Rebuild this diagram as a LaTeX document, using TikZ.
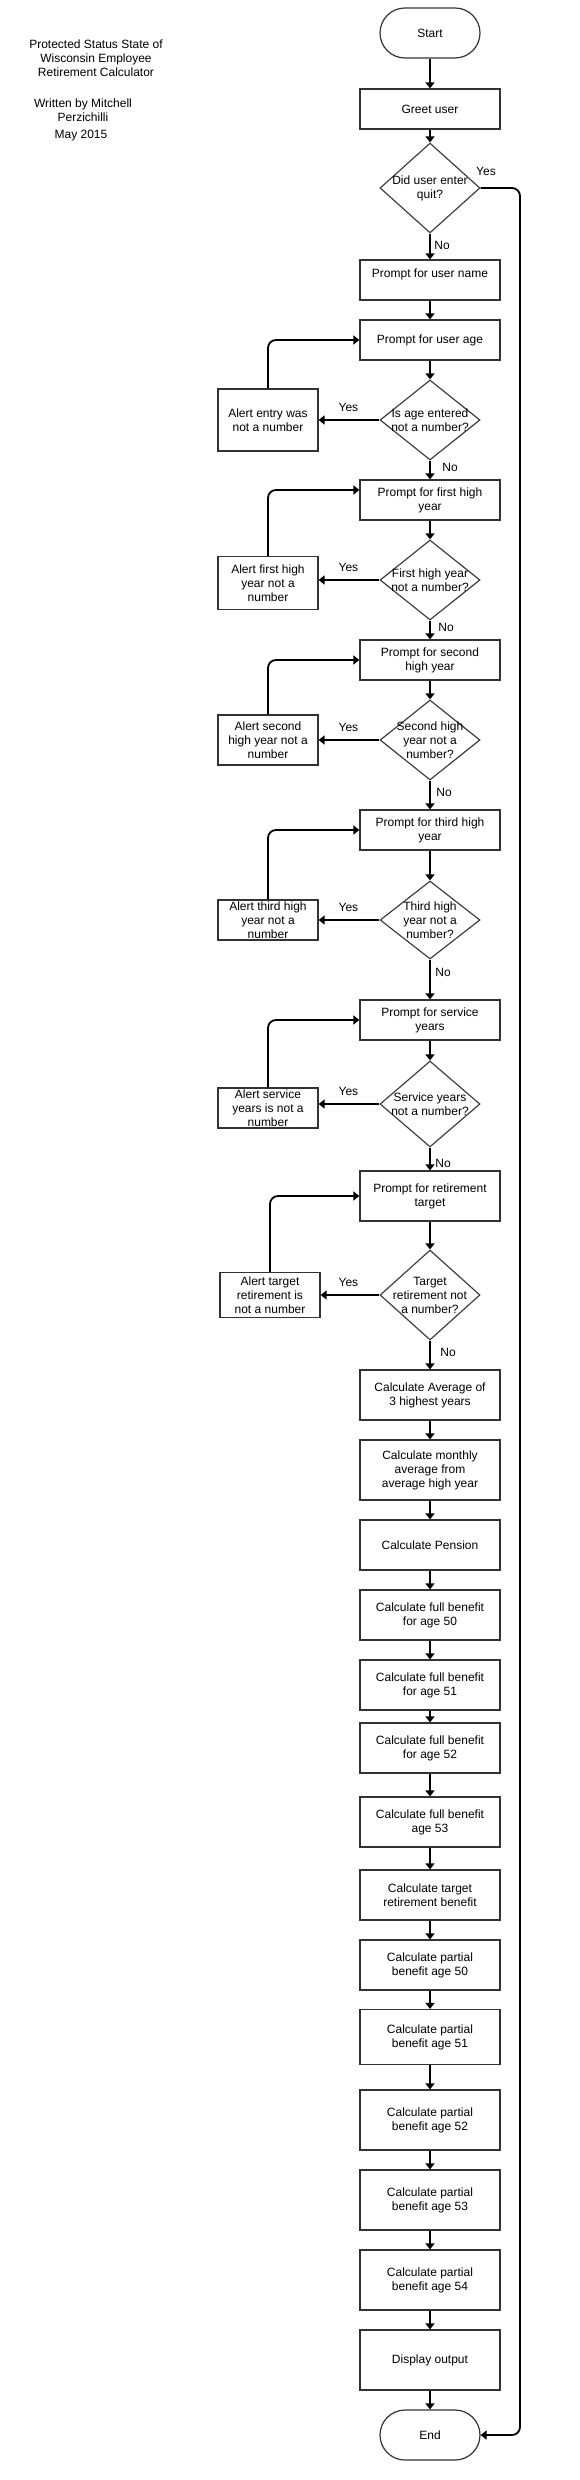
\documentclass[tikz,border=0pt]{standalone}
\usepackage{fontspec}
\setmainfont{Liberation Sans}
\usetikzlibrary{shapes.geometric,arrows.meta}

\tikzset{
  stepbox/.style={draw=black!80, line width=1.2pt, minimum width=140pt, minimum height=#1, inner sep=0pt, align=center},
  stepbox/.default=40pt,
  alertbox/.style={stepbox=#1, minimum width=100pt},
  term/.style={draw=black!80, line width=1.2pt, rounded corners=25pt, minimum width=100pt, minimum height=50pt, inner sep=0pt},
  dec/.style={draw=black!75, line width=1.2pt, shape=diamond, minimum width=100pt, minimum height=#1, inner sep=0pt},
  dtext/.style={align=center, inner sep=0pt},
  arr/.style={-{Triangle[width=9pt,length=6pt]}, line width=1.8pt},
  lbl/.style={inner sep=0pt},
}

\begin{document}
\begin{tikzpicture}[x=1pt, y=-1pt, font=\fontsize{12}{14}\selectfont]
    \useasboundingbox (0,0) rectangle (579,2480);

    % title block
    \node[align=center] (title) at (96,58) {Protected Status State of\\Wisconsin Employee\\Retirement Calculator};
    \node[align=center] (author) at (83,110) {Written by Mitchell\\Perzichilli};
    \node (date) at (81,136) {May 2015};

    % input part
    \node[term] (start) at (430,33) {Start};
    \node[stepbox] (greet) at (430,109) {Greet user};
    \node[dec=90pt, label={[dtext,name=quitT]center:{Did user enter\\quit?}}] (quit) at (430,188) {};
    \node[stepbox] (uname) at (430,280) {Prompt for user name\\\mbox{}};
    \node[stepbox] (age) at (430,340) {Prompt for user age};
    \node[dec=80pt, label={[dtext,name=ageT]center:{Is age entered\\not a number?}}] (ageQ) at (430,420) {};
    \node[alertbox=62pt] (ageA) at (268,420) {Alert entry was\\not a number};
    \node[stepbox] (fh) at (430,500) {Prompt for first high\\year};
    \node[dec=80pt, label={[dtext,name=fhT]center:{First high year\\not a number?}}] (fhQ) at (430,580) {};
    \node[alertbox=53pt] (fhA) at (268,583) {Alert first high\\year not a\\number};
    \node[stepbox] (sh) at (430,660) {Prompt for second\\high year};
    \node[dec=80pt, label={[dtext,name=shT]center:{Second high\\year not a\\number?}}] (shQ) at (430,740) {};
    \node[alertbox=50pt] (shA) at (268,740) {Alert second\\high year not a\\number};
    \node[stepbox] (th) at (430,830) {Prompt for third high\\year};
    \node[dec=78pt, label={[dtext,name=thT]center:{Third high\\year not a\\number?}}] (thQ) at (430,920) {};
    \node[alertbox=40pt] (thA) at (268,920) {Alert third high\\year not a\\number};
    \node[stepbox] (sy) at (430,1020) {Prompt for service\\years};
    \node[dec=86pt, label={[dtext,name=syT]center:{Service years\\not a number?}}] (syQ) at (430,1104) {};
    \node[alertbox=40pt] (syA) at (268,1108) {Alert service\\years is not a\\number};
    \node[stepbox=50pt] (rt) at (430,1196) {Prompt for retirement\\target};
    \node[dec=90pt, label={[dtext,name=rtT]center:{Target\\retirement not\\a number?}}] (rtQ) at (430,1295) {};
    \node[alertbox=45pt] (rtA) at (270,1295) {Alert target\\retirement is\\not a number};

    % calculations
    \node[stepbox=50pt] (avg) at (430,1395) {Calculate Average of\\3 highest years};
    \node[stepbox=60pt] (mon) at (430,1470) {Calculate monthly\\average from\\average high year};
    \node[stepbox=50pt] (pen) at (430,1545) {Calculate Pension};
    \node[stepbox=50pt] (f50) at (430,1615) {Calculate full benefit\\for age 50};
    \node[stepbox=50pt] (f51) at (430,1685) {Calculate full benefit\\for age 51};
    \node[stepbox=50pt] (f52) at (430,1748) {Calculate full benefit\\for age 52};
    \node[stepbox=50pt] (f53) at (430,1822) {Calculate full benefit\\age 53};
    \node[stepbox=50pt] (tgt) at (430,1895) {Calculate target\\retirement benefit};
    \node[stepbox=50pt] (p50) at (430,1965) {Calculate partial\\benefit age 50};
    \node[stepbox=55pt] (p51) at (430,2037) {Calculate partial\\benefit age 51};
    \node[stepbox=60pt] (p52) at (430,2120) {Calculate partial\\benefit age 52};
    \node[stepbox=60pt] (p53) at (430,2200) {Calculate partial\\benefit age 53};
    \node[stepbox=60pt] (p54) at (430,2280) {Calculate partial\\benefit age 54};
    \node[stepbox=60pt] (disp) at (430,2360) {Display output};
    \node[term] (stop) at (430,2435) {End};

    % main flow
    \foreach \a/\b in {start/greet, greet/quit, quit/uname, uname/age, age/ageQ, ageQ/fh, fh/fhQ, fhQ/sh, sh/shQ,
                       shQ/th, th/thQ, thQ/sy, sy/syQ, syQ/rt, rt/rtQ, rtQ/avg, avg/mon, mon/pen, pen/f50,
                       f50/f51, f51/f52, f52/f53, f53/tgt, tgt/p50, p50/p51, p51/p52, p52/p53, p53/p54,
                       p54/disp, disp/stop}
        \draw[arr] (\a.south) -- (\b.north);

    % yes branches and loops back
    \foreach \q/\a in {ageQ/ageA, fhQ/fhA, shQ/shA, thQ/thA, syQ/syA, rtQ/rtA} {
        \draw[arr] (\q.west) -- (\q.west -| \a.east);
        \node[lbl] (yes-\q) at ([xshift=-31pt,yshift=13pt]\q.west) {Yes};
    }
    \foreach \a/\b in {ageA/age, shA/sh, thA/th, syA/sy, rtA/rt}
        \draw[arr, rounded corners=8pt] (\a.north) |- (\b.west);
    \draw[arr, rounded corners=8pt] (fhA.north) |- ([yshift=10pt]fh.west);

    % quit goes straight to the end
    \coordinate (rail) at (520,188);
    \draw[arr, rounded corners=8pt] (quit.east) -- (rail) |- (stop.east);
    \node[lbl] (yes-quit) at (486,171) {Yes};

    \node[lbl] (no-quit) at (442,245) {No};
    \node[lbl] (no-age) at (450,467) {No};
    \node[lbl] (no-fh) at (446,627) {No};
    \node[lbl] (no-sh) at (444,792) {No};
    \node[lbl] (no-th) at (443,972) {No};
    \node[lbl] (no-sy) at (443,1163) {No};
    \node[lbl] (no-rt) at (448,1352) {No};
\end{tikzpicture}
\end{document}
